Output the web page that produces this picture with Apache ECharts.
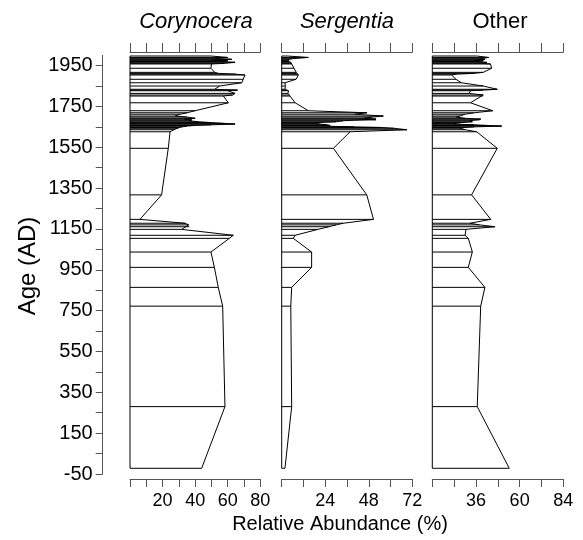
<!DOCTYPE html>
<html>
<head>
<meta charset="utf-8">
<script src="https://cdn.jsdelivr.net/npm/echarts@6/dist/echarts.min.js"></script>
<style>
  html, body { margin: 0; padding: 0; background: #fff; }
  #chart { width: 583px; height: 540px; }
</style>
</head>
<body>
<div id="chart"></div>
<script>
// Sample ages (AD), shared by all three taxa
const ages = [
  1997, 1990, 1984, 1981, 1977, 1974, 1970, 1966, 1961, 1958,
  1937, 1917, 1912, 1908, 1904, 1883, 1866, 1850, 1834, 1830,
  1827, 1814, 1806, 1801, 1768, 1729, 1719, 1712, 1703, 1698,
  1692, 1688, 1684, 1680, 1675, 1671, 1667, 1664, 1660, 1657,
  1654, 1650, 1647, 1643, 1636, 1626, 1545, 1317, 1197, 1178,
  1170, 1161, 1148, 1119, 1104, 1037, 962, 864, 772, 280,
  -22
];

// Relative abundance (%) per sample
const corynocera = [
  49.7, 60, 52, 62.4, 50, 60, 55, 64.5, 58, 50,
  49.7, 52, 54.2, 65, 70.6, 69.5, 68.6, 55, 52, 66,
  60, 64.5, 63, 57.3, 60.4, 39.9, 35, 31, 27.6, 35,
  40, 33, 38, 36, 42, 50, 58, 64.5, 50, 40,
  35, 32, 30, 29.7, 27, 24.6, 23.5, 19.4, 6.1, 33.8,
  36, 36.4, 31.7, 63.4, 61, 49.7, 51.8, 54.2, 56.9, 58.3,
  44.0
];

const sergentia = [
  3, 14.7, 6, 4, 3.7, 4, 3.7, 5, 5.5, 5.5,
  6.8, 8, 8.3, 9, 9.2, 7.9, 1.8, 2, 1.8, 2.5,
  3.7, 3.5, 4, 4.6, 7.4, 14.7, 47, 40, 56, 50,
  45, 52, 52, 34, 30, 20, 18, 21, 25, 26.7,
  22, 40, 55, 62, 69, 37.7, 28.5, 46.9, 50.6, 34,
  30, 26, 20, 7.4, 6.4, 16.5, 16.5, 5.5, 5.0, 5.5,
  1.8
];

const other = [
  36.4, 43, 38, 41, 35, 40, 36, 42, 39, 44,
  44.6, 40, 35, 25, 22.6, 25, 28, 40, 47.7, 40,
  33, 32.3, 40, 39.7, 33, 45.2, 35, 30, 27.2, 25,
  30, 38.6, 38, 32.7, 34, 28, 25, 23.5, 35, 42,
  50.1, 35, 30, 27.2, 30, 36.4, 47.7, 33.6, 44.1, 32.7,
  38, 46.4, 30.5, 30, 31.8, 34, 31.8, 40.9, 38.6, 36.7,
  54.3
];

// Panel axes: range, tick step and labelled values
const panelTitles = ['Corynocera', 'Sergentia', 'Other'];
const panelItalic = [true, true, false];
const panelMin = [0, 0, 12];
const panelMax = [80, 72, 84];
const panelStep = [10, 12, 12];
const panelLabels = [[20, 40, 60, 80], [24, 48, 72], [36, 60, 84]];
const panelSeries = [corynocera, sergentia, other];

// Age axis ticks and labels
const ageTicks = [];
for (let a = -50; a <= 1950; a += 100) ageTicks.push(a);
const ageLabels = [-50, 150, 350, 550, 750, 950, 1150, 1350, 1550, 1750, 1950];

const FONT = 'Liberation Sans, Arial, sans-serif';
const AXIS_COLOR = '#555';

// Layout (pixels)
const panelLeft = [130, 281.7, 432.3];
const panelWidth = [130.3, 130.6, 131];
const panelTop = 52, panelBottomPx = 479;
const ageTop = 55.4, ageBottomPx = 474;
const pxPerYear = (ageBottomPx - ageTop) / 2050;
const panelYMax = 2000 + (ageTop - panelTop) / pxPerYear;
const panelYMin = -50 - (panelBottomPx - ageBottomPx) / pxPerYear;

const grid = [{ left: 102.7, top: ageTop, width: 1, height: ageBottomPx - ageTop }];
const xAxis = [{ gridIndex: 0, type: 'value', show: false, min: 0, max: 1 }];
const yAxis = [{
  gridIndex: 0, type: 'value', min: -50, max: 2000,
  axisLine: { show: true, lineStyle: { color: AXIS_COLOR, width: 1 } },
  axisTick: { show: true, length: 7, customValues: ageTicks, lineStyle: { color: AXIS_COLOR } },
  axisLabel: {
    show: true, customValues: ageLabels, margin: 10, fontSize: 20, color: '#000', fontFamily: FONT,
    formatter: v => String(v)
  },
  splitLine: { show: false }
}];
const series = [];

function hbar(xMin) {
  return function (params, api) {
    const age = api.value(1);
    const p0 = api.coord([xMin, age]);
    const p1 = api.coord([api.value(0), age]);
    return {
      type: 'line',
      shape: { x1: p0[0], y1: p0[1], x2: p1[0], y2: p1[1] },
      style: { stroke: '#000', lineWidth: 1 }
    };
  };
}

for (let k = 0; k < 3; k++) {
  const g = k + 1;
  grid.push({ left: panelLeft[k], top: panelTop, width: panelWidth[k], height: panelBottomPx - panelTop });
  const labelSet = panelLabels[k];
  // bottom axis with labels
  xAxis.push({
    gridIndex: g, type: 'value', position: 'bottom',
    min: panelMin[k], max: panelMax[k], interval: panelStep[k],
    axisLine: { show: true, onZero: false, lineStyle: { color: AXIS_COLOR, width: 1 } },
    axisTick: { show: true, length: 8, lineStyle: { color: AXIS_COLOR } },
    axisLabel: {
      show: true, margin: 13, fontSize: 18, color: '#000', fontFamily: FONT,
      formatter: v => (labelSet.indexOf(v) >= 0 ? String(v) : '')
    },
    splitLine: { show: false }
  });
  // top axis, ticks only
  xAxis.push({
    gridIndex: g, type: 'value', position: 'top',
    min: panelMin[k], max: panelMax[k], interval: panelStep[k],
    axisLine: { show: true, onZero: false, lineStyle: { color: AXIS_COLOR, width: 1 } },
    axisTick: { show: true, length: 9, lineStyle: { color: AXIS_COLOR } },
    axisLabel: { show: false },
    splitLine: { show: false }
  });
  yAxis.push({ gridIndex: g, type: 'value', min: panelYMin, max: panelYMax, show: false });

  const xi = 1 + k * 2, yi = g;
  const vals = panelSeries[k];
  const pts = ages.map((a, i) => [vals[i], a]);
  // horizontal sample bars from the baseline
  series.push({
    type: 'custom', xAxisIndex: xi, yAxisIndex: yi,
    renderItem: hbar(panelMin[k]), data: pts, silent: true, clip: false
  });
  // abundance curve
  series.push({
    type: 'line', xAxisIndex: xi, yAxisIndex: yi, data: pts,
    showSymbol: false, symbol: 'none', silent: true,
    lineStyle: { color: '#000', width: 1 }
  });
  // baseline between top and bottom samples
  series.push({
    type: 'line', xAxisIndex: xi, yAxisIndex: yi,
    data: [[panelMin[k], ages[0]], [panelMin[k], ages[ages.length - 1]]],
    showSymbol: false, symbol: 'none', silent: true,
    lineStyle: { color: '#000', width: 1 }
  });
}

const graphic = [
  {
    type: 'text', x: 28, y: 266, rotation: Math.PI / 2,
    style: { text: 'Age (AD)', font: '24px ' + FONT, fill: '#000', textAlign: 'center', textVerticalAlign: 'middle' }
  },
  {
    type: 'text', x: 340, y: 524,
    style: { text: 'Relative Abundance (%)', font: '20px ' + FONT, fill: '#000', textAlign: 'center', textVerticalAlign: 'middle' }
  }
];
const titleX = [196, 347, 500];
for (let k = 0; k < 3; k++) {
  graphic.push({
    type: 'text', x: titleX[k], y: 22,
    style: {
      text: panelTitles[k],
      font: (panelItalic[k] ? 'italic ' : '') + '22px ' + FONT,
      fill: '#000', textAlign: 'center', textVerticalAlign: 'middle'
    }
  });
}

const chart = echarts.init(document.getElementById('chart'), null, { renderer: 'canvas' });
chart.setOption({
  animation: false,
  backgroundColor: '#fff',
  grid, xAxis, yAxis, series, graphic
});
</script>
</body>
</html>
